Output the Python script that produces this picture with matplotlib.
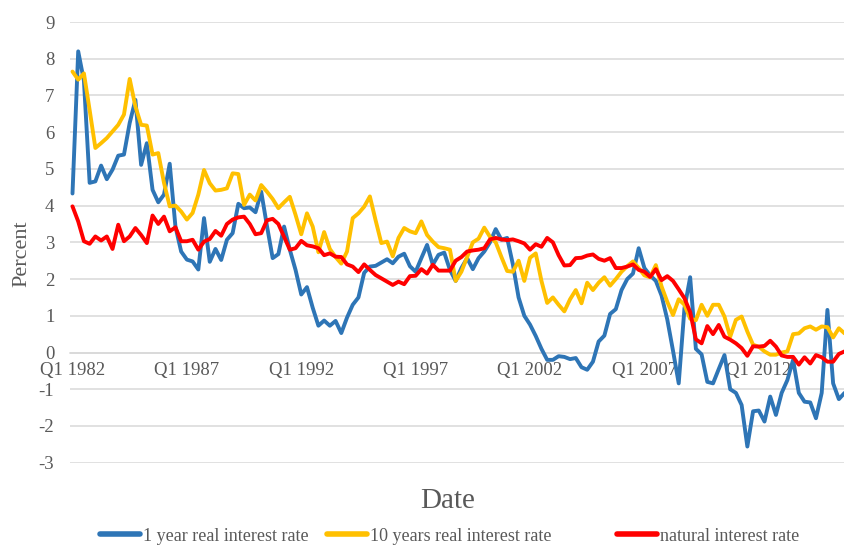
import numpy as np
import pandas as pd
import matplotlib
matplotlib.use("Agg")
from matplotlib import pyplot as plt

# quarterly data, Q1 1982 onwards (percent)
quarters = pd.period_range("1982Q1", periods=136, freq="Q")

one_year = [
    4.33, 8.2, 7.4, 4.62, 4.66, 5.09, 4.72, 4.98, 5.36, 5.39,
    6.25, 6.88, 5.11, 5.7, 4.43, 4.09, 4.3, 5.14, 3.43, 2.75,
    2.53, 2.48, 2.26, 3.66, 2.47, 2.82, 2.52, 3.07, 3.25, 4.05,
    3.93, 3.95, 3.82, 4.38, 3.45, 2.57, 2.68, 3.43, 2.8, 2.25,
    1.58, 1.78, 1.22, 0.73, 0.87, 0.73, 0.86, 0.53, 0.95, 1.3,
    1.5, 2.17, 2.34, 2.36, 2.45, 2.54, 2.43, 2.61, 2.69, 2.35,
    2.2, 2.57, 2.93, 2.39, 2.66, 2.72, 2.25, 1.95, 2.3, 2.57,
    2.27, 2.57, 2.75, 3.0, 3.36, 3.07, 3.12, 2.4, 1.5, 1.0,
    0.76, 0.45, 0.1, -0.2, -0.2, -0.1, -0.12, -0.18, -0.15, -0.4,
    -0.47, -0.25, 0.3, 0.46, 1.05, 1.18, 1.7, 2.0, 2.15, 2.84,
    2.3, 2.1, 1.95, 1.55, 0.9, 0.05, -0.84, 1.2, 2.05, 0.1,
    -0.05, -0.8, -0.84, -0.45, -0.07, -1.0, -1.1, -1.43, -2.56, -1.6,
    -1.58, -1.88, -1.2, -1.7, -1.1, -0.75, -0.2, -1.1, -1.34, -1.36,
    -1.79, -1.1, 1.16, -0.84, -1.27, -1.1,
]

ten_years = [
    7.65, 7.43, 7.6, 6.6, 5.57, 5.7, 5.84, 6.02, 6.2, 6.48,
    7.45, 6.7, 6.2, 6.18, 5.39, 5.43, 4.62, 3.98, 4.0, 3.84,
    3.62, 3.8, 4.3, 4.97, 4.61, 4.41, 4.43, 4.47, 4.88, 4.86,
    4.02, 4.3, 4.14, 4.56, 4.38, 4.18, 3.93, 4.09, 4.24, 3.75,
    3.22, 3.79, 3.43, 2.73, 3.28, 2.82, 2.6, 2.42, 2.75, 3.66,
    3.79, 3.97, 4.25, 3.6, 2.98, 3.02, 2.62, 3.12, 3.39, 3.3,
    3.25, 3.57, 3.2, 3.02, 2.87, 2.84, 2.8, 1.95, 2.2, 2.6,
    3.0, 3.1, 3.4, 3.15, 3.0, 2.6, 2.22, 2.2, 2.5, 1.95,
    2.58, 2.7, 1.95, 1.35, 1.5, 1.3, 1.12, 1.45, 1.7, 1.34,
    1.9, 1.7, 1.9, 2.05, 1.82, 2.0, 2.2, 2.35, 2.48, 2.3,
    2.1, 2.05, 2.38, 1.8, 1.38, 1.02, 1.45, 1.3, 0.92, 0.88,
    1.3, 1.0, 1.3, 1.3, 0.98, 0.43, 0.89, 0.98, 0.57, 0.21,
    0.16, 0.03, -0.06, -0.06, 0.0, 0.03, 0.5, 0.52, 0.66, 0.71,
    0.62, 0.71, 0.69, 0.41, 0.66, 0.52,
]

natural = [
    3.98, 3.57, 3.03, 2.96, 3.16, 3.05, 3.16, 2.82, 3.48, 3.03,
    3.16, 3.39, 3.2, 2.98, 3.73, 3.5, 3.7, 3.3, 3.41, 3.03,
    3.03, 3.07, 2.8, 3.02, 3.09, 3.31, 3.18, 3.5, 3.62, 3.68,
    3.7, 3.5, 3.22, 3.25, 3.6, 3.64, 3.5, 3.15, 2.8, 2.84,
    3.04, 2.92, 2.89, 2.84, 2.65, 2.7, 2.61, 2.6, 2.4, 2.34,
    2.19, 2.4, 2.25, 2.11, 2.02, 1.93, 1.84, 1.93, 1.86, 2.08,
    2.09, 2.27, 2.15, 2.39, 2.23, 2.23, 2.23, 2.5, 2.6, 2.75,
    2.78, 2.8, 2.84, 3.08, 3.12, 3.08, 3.06, 3.08, 3.03, 2.97,
    2.8, 2.95, 2.88, 3.12, 3.0, 2.65, 2.37, 2.38, 2.57, 2.58,
    2.64, 2.67, 2.55, 2.5, 2.57, 2.3, 2.3, 2.34, 2.4, 2.25,
    2.2, 2.06, 2.27, 1.97, 2.08, 1.95, 1.72, 1.48, 1.1, 0.36,
    0.25, 0.72, 0.5, 0.75, 0.43, 0.35, 0.25, 0.12, -0.09, 0.17,
    0.16, 0.18, 0.32, 0.16, -0.08, -0.12, -0.12, -0.33, -0.13, -0.3,
    -0.07, -0.13, -0.25, -0.25, -0.04, 0.03,
]

series_names = ["1 year real interest rate", "10 years real interest rate", "natural interest rate"]
series_colors = ["#2E75B6", "#FFC000", "#FF0000"]

labels = ["Q%d %d" % (q.quarter, q.year) for q in quarters]
x = np.arange(len(quarters))

plt.rcParams["font.family"] = ["Liberation Serif", "DejaVu Serif"]
plt.rcParams["axes.unicode_minus"] = False
text_color = "#595959"
grid_color = "#D9D9D9"

fig = plt.figure(figsize=(8.44, 5.46), dpi=100)
ax = fig.add_axes([0.0825, 0.1526, 0.9175, 0.8071])

lines = []
for values, name, color in zip([one_year, ten_years, natural], series_names, series_colors):
    ln, = ax.plot(x, values, color=color, linewidth=2.8, label=name,
                  solid_joinstyle="round", solid_capstyle="round")
    lines.append(ln)

ax.set_xlim(-0.5, 134.9)
ax.set_ylim(-3, 9)
ax.set_yticks(np.arange(-3, 10, 1))
ax.yaxis.grid(True, color=grid_color, linewidth=1.1)
ax.set_axisbelow(True)

tick_idx = x[::20]
ax.set_xticks(tick_idx)
ax.set_xticklabels([labels[i] for i in tick_idx])

for side in ["top", "right", "left"]:
    ax.spines[side].set_visible(False)
ax.spines["bottom"].set_position(("data", 0))
ax.spines["bottom"].set_color(grid_color)
ax.spines["bottom"].set_linewidth(1.1)
ax.spines["bottom"].set_zorder(0.5)

ax.tick_params(axis="x", length=0, pad=7, labelsize=13.5, labelcolor=text_color)
ax.tick_params(axis="y", length=0, pad=11, labelsize=13.5, labelcolor=text_color)

fig.text(0.0265, 0.535, "Percent", rotation=90, ha="center", va="center",
         fontsize=16, color=text_color)
fig.text(0.530, 0.083, "Date", ha="center", va="center", fontsize=21, color=text_color)

# one legend entry per slot, placed like the original's bottom legend
legend_x = [0.1185, 0.3875, 0.731]
for ln, lx in zip(lines, legend_x):
    leg = fig.legend(handles=[ln], loc="center left", bbox_to_anchor=(lx, 0.018),
                     frameon=False, fontsize=13, handlelength=2.2, handletextpad=0.2,
                     borderpad=0, borderaxespad=0, labelcolor=text_color)
    leg.get_lines()[0].set_linewidth(4)

fig.savefig("out.png", dpi=100)
